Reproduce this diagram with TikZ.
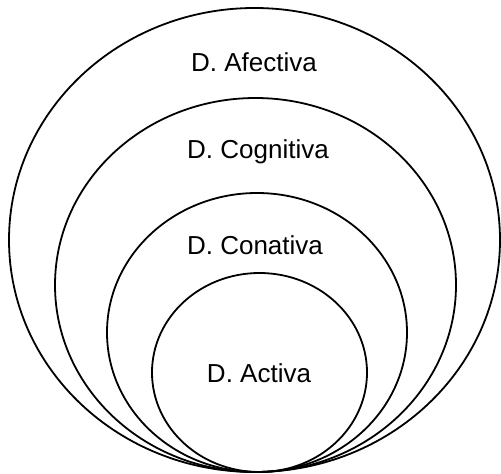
\documentclass[tikz,border=0pt]{standalone}
\usepackage{fontspec}
\setmainfont{Liberation Sans}
\begin{document}
\begin{tikzpicture}[x=1pt,y=-1pt,
  ring/.style={draw=black,line width=1.8pt},
  lbl/.style={font=\fontsize{26}{30}\selectfont,inner sep=0pt}]
\useasboundingbox (0,0) rectangle (501,474);
\draw[ring] (254.5,240) ellipse (245.5 and 232);
\draw[ring] (255.5,285) ellipse (200.5 and 187);
\draw[ring] (257,332.5) ellipse (150 and 139.5);
\draw[ring] (259.5,372.5) ellipse (107.5 and 99.5);
\node[lbl] (afectiva) at (254,62) {D. Afectiva};
\node[lbl] (cognitiva) at (258,152) {D. Cognitiva};
\node[lbl] (conativa) at (255,245) {D. Conativa};
\node[lbl] (activa) at (259,373) {D. Activa};
\end{tikzpicture}
\end{document}
